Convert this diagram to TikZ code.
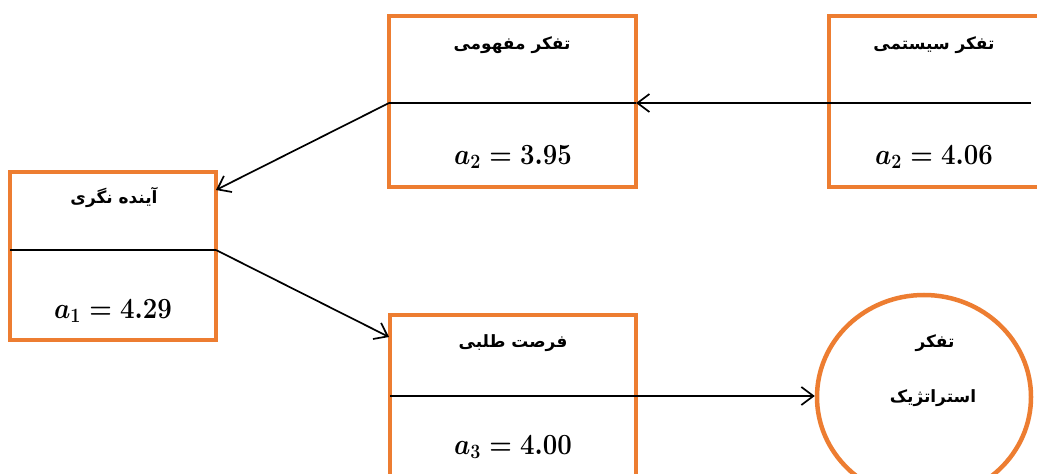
\documentclass[tikz,border=0pt]{standalone}
\usepackage{fontspec}
\usepackage{amsmath}
\usepackage{graphicx}
\TeXXeTstate=1
\newfontfamily\fa[Script=Arabic]{DejaVu Sans}
\usetikzlibrary{arrows.meta,shapes.geometric}
\definecolor{boxorange}{RGB}{237,125,49}
\newcommand{\bval}[2]{\scalebox{1.04}[1.18]{$\boldsymbol{a_{#1} = #2}$}}
\tikzset{
  boxshape/.style={draw=boxorange, line width=4.5bp, rectangle, inner sep=0pt},
  ovalshape/.style={draw=boxorange, line width=4.5bp, ellipse, inner sep=0pt},
  titletext/.style={font=\fa\bfseries\fontsize{17}{20}\selectfont, inner sep=0pt},
  valtext/.style={font=\fontsize{24}{28}\selectfont, inner sep=0pt},
  divider/.style={line width=1.7bp, black},
  conn/.style={line width=1.7bp, black, -{Straight Barb[length=12bp,width=18bp,line width=1.7bp]}},
}
\begin{document}
\begin{tikzpicture}[x=1bp,y=-1bp]
\useasboundingbox (0,0) rectangle (1037,474);
\clip (0,0) rectangle (1037,474);
\fill[white] (0,0) rectangle (1037,474);
% boxes
\node[boxshape, minimum width=247bp, minimum height=171bp] (b1) at (512.5,101.5) {};
\node[boxshape, minimum width=216bp, minimum height=171bp] (b2) at (937,101.5) {};
\node[boxshape, minimum width=206bp, minimum height=168bp] (b3) at (113,256) {};
\node[boxshape, minimum width=246bp, minimum height=175bp] (b4) at (513,402.5) {};
\node[ovalshape, minimum width=214bp, minimum height=204bp] (c5) at (924,397) {};
% titles
\node[titletext] (t1) at (512,45) {\beginR تفکر مفهومی\endR};
\node[titletext] (t2) at (934,45) {\beginR تفکر سیستمی\endR};
\node[titletext] (t3) at (114,197) {\beginR آینده نگری\endR};
\node[titletext] (t4) at (513,343) {\beginR فرصت طلبی\endR};
\node[titletext] (t5a) at (935,343) {\beginR تفکر\endR};
\node[titletext] (t5b) at (933,398) {\beginR استراتژیک\endR};
% values
\node[valtext] (v1) at (513,157) {\bval{2}{3.95}};
\node[valtext] (v2) at (934,157) {\bval{2}{4.06}};
\node[valtext] (v3) at (113,311) {\bval{1}{4.29}};
\node[valtext] (v4) at (513,447) {\bval{3}{4.00}};
% divider coordinates
\coordinate (d1w) at (389,103);
\coordinate (d1e) at (636,103);
\coordinate (s2) at (1031,103);
\coordinate (d3w) at (10,250);
\coordinate (d3e) at (216,250);
\coordinate (e3) at (216,190);
\coordinate (d4w) at (390,396);
\coordinate (e4) at (389,337);
% dividers
\draw[divider] (d1w) -- (d1e);
\draw[divider] (d3w) -- (d3e);
% connectors
\draw[conn] (s2) -- (d1e);
\draw[conn] (d1w) -- (e3);
\draw[conn] (d3e) -- (e4);
\draw[conn] (d4w) -- (d4w -| c5.west);
\end{tikzpicture}
\end{document}
